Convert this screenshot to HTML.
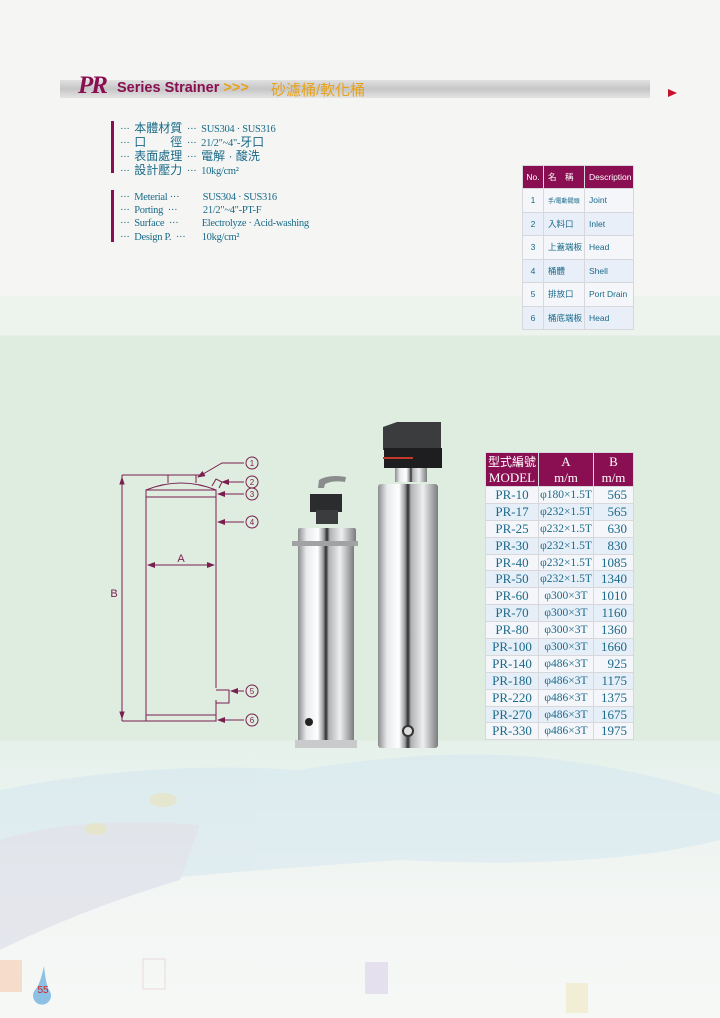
<!DOCTYPE html>
<html><head><meta charset="utf-8"><style>
*{margin:0;padding:0;box-sizing:border-box}
body{width:720px;height:1018px;position:relative;overflow:hidden;font-family:"Liberation Serif","Noto Serif CJK SC",serif;
background:linear-gradient(#f5f6f3 0,#f5f6f3 296px,#edf3ed 296px,#edf3ed 335px,#deede0 336px,#deede0 740px,#e6f1ec 742px,#f3f6f4 900px,#f6f8f6 1018px)}
.a{position:absolute}
.hdr{left:60px;top:80px;width:590px;height:18px;background:linear-gradient(#e0e0e0,#c6c6c6 50%,#e4e4e4)}
.sp{font-size:10.5px;color:#1a6a8a;line-height:13px;white-space:pre;letter-spacing:-0.3px}
.cj{font-family:"Liberation Sans","Noto Sans CJK TC",sans-serif;font-size:12px;letter-spacing:0}
table{border-collapse:collapse;position:absolute}
td{border:1px solid #d8d8dc;text-align:center;color:#1a6a8a}
.t1 td{font-family:"Liberation Sans","Noto Sans CJK TC",sans-serif;font-size:8.5px;height:23.5px;background:#f4f6fa}
.t1 tr:nth-child(odd) td{background:#e8eff8}
.t1 tr:first-child td{background:#8a0f52;color:#fff;height:23px;font-size:8.5px}
.t1 td:nth-child(3),.t1 td:nth-child(2){text-align:left;padding-left:4px}
.t2 td{font-size:13px;height:16.9px;background:#f4f6fa;line-height:14px}
.t2 tr:nth-child(odd) td{background:#e6eef8}
.t2 tr:first-child td{background:#8a0f52;color:#fff;height:34px;font-size:13px;line-height:16px}
.t2 td:nth-child(2){font-size:11.5px}
.t2 td:nth-child(3){text-align:right;padding-right:6px}
</style></head><body>
<div class="a hdr"></div>
<div class="a" style="left:78px;top:72px;font:italic bold 25px 'Liberation Serif',serif;color:#8a0f52;letter-spacing:-2px">PR</div>
<div class="a" style="left:117px;top:80px;font:bold 14.5px 'Liberation Sans',sans-serif;color:#8a0f52">Series Strainer <span style="color:#e8a21a">&gt;&gt;&gt;</span></div>
<div class="a" style="left:271px;top:79px;font:15px 'Liberation Sans','Noto Sans CJK TC',sans-serif;color:#e8a21a">砂濾桶/軟化桶</div>
<div class="a" style="left:668px;top:89px;width:0;height:0;border-left:9px solid #c8102e;border-top:4px solid transparent;border-bottom:4px solid transparent"></div>

<div class="a" style="left:111px;top:121px;width:3px;height:52px;background:#8a0f52"></div>
<div class="a sp" style="left:120px;top:122px">···  <span class="cj">本體材質</span>  ···  SUS304 · SUS316
···  <span class="cj">口　　徑</span>  ···  21/2"~4"-<span class="cj">牙口</span>
···  <span class="cj">表面處理</span>  ···  <span class="cj">電解 · 酸洗</span>
···  <span class="cj">設計壓力</span>  ···  10kg/cm²</div>
<div class="a" style="left:111px;top:190px;width:3px;height:52px;background:#8a0f52"></div>
<div class="a sp" style="left:120px;top:191px;line-height:13.2px;font-size:10.5px;letter-spacing:-0.3px">···  Meterial ···          SUS304 · SUS316
···  Porting  ···           21/2"~4"-PT-F
···  Surface  ···          Electrolyze · Acid-washing
···  Design P.  ···       10kg/cm²</div>

<table class="t1" style="left:522px;top:165px;width:112px">
<tr><td style="width:21px;text-align:center;padding:0">No.</td><td style="width:41px">名　稱</td><td>Description</td></tr>
<tr><td style="text-align:center;padding:0">1</td><td style="font-size:6px">手/電動閥頭</td><td>Joint</td></tr>
<tr><td style="text-align:center;padding:0">2</td><td>入料口</td><td>Inlet</td></tr>
<tr><td style="text-align:center;padding:0">3</td><td>上蓋端板</td><td>Head</td></tr>
<tr><td style="text-align:center;padding:0">4</td><td>桶體</td><td>Shell</td></tr>
<tr><td style="text-align:center;padding:0">5</td><td>排放口</td><td>Port Drain</td></tr>
<tr><td style="text-align:center;padding:0">6</td><td>桶底端板</td><td>Head</td></tr>
</table>

<table class="t2" style="left:485px;top:452px;width:149px">
<tr><td style="width:53px"><span style="font-family:'Liberation Sans','Noto Sans CJK TC',sans-serif;font-size:12px">型式編號</span><br>MODEL</td><td style="width:55px;font-size:13px">A<br>m/m</td><td style="text-align:center;padding:0">B<br>m/m</td></tr>
<tr><td>PR-10</td><td>φ180×1.5T</td><td>565</td></tr>
<tr><td>PR-17</td><td>φ232×1.5T</td><td>565</td></tr>
<tr><td>PR-25</td><td>φ232×1.5T</td><td>630</td></tr>
<tr><td>PR-30</td><td>φ232×1.5T</td><td>830</td></tr>
<tr><td>PR-40</td><td>φ232×1.5T</td><td>1085</td></tr>
<tr><td>PR-50</td><td>φ232×1.5T</td><td>1340</td></tr>
<tr><td>PR-60</td><td>φ300×3T</td><td>1010</td></tr>
<tr><td>PR-70</td><td>φ300×3T</td><td>1160</td></tr>
<tr><td>PR-80</td><td>φ300×3T</td><td>1360</td></tr>
<tr><td>PR-100</td><td>φ300×3T</td><td>1660</td></tr>
<tr><td>PR-140</td><td>φ486×3T</td><td>925</td></tr>
<tr><td>PR-180</td><td>φ486×3T</td><td>1175</td></tr>
<tr><td>PR-220</td><td>φ486×3T</td><td>1375</td></tr>
<tr><td>PR-270</td><td>φ486×3T</td><td>1675</td></tr>
<tr><td>PR-330</td><td>φ486×3T</td><td>1975</td></tr>
</table>

<svg class="a" style="left:0;top:0" width="720" height="1018">
<defs>
<linearGradient id="st" x1="0" x2="1"><stop offset="0" stop-color="#8a8c8e"/><stop offset=".15" stop-color="#e8eaec"/><stop offset=".35" stop-color="#ffffff"/><stop offset=".45" stop-color="#9a9c9e"/><stop offset=".5" stop-color="#2a2c2e"/><stop offset=".55" stop-color="#b0b2b4"/><stop offset=".75" stop-color="#eeeff0"/><stop offset="1" stop-color="#7a7c7e"/></linearGradient>
<marker id="ar" markerWidth="8" markerHeight="6" refX="7" refY="3" orient="auto"><path d="M0,0L8,3L0,6z" fill="#7a2050"/></marker>
</defs>
<g opacity=".5">
<path d="M0,790Q150,760 300,770Q450,745 560,760Q640,770 720,795V840Q600,870 400,860Q250,870 150,880Q60,900 0,940z" fill="#d2e6f0"/>
<path d="M0,840Q80,815 200,825L180,880Q80,910 0,950z" fill="#d6d8e6"/>
</g>
<g fill="#e8e4b8" opacity=".6"><ellipse cx="163" cy="800" rx="14" ry="7"/><ellipse cx="96" cy="829" rx="11" ry="6"/></g>
<g stroke="#7a2050" stroke-width="1" fill="none">
<path d="M122,475H200M122,721H146M122,475V721" />
<path d="M122,478l-2,6h4z M122,718l-2,-6h4z" fill="#7a2050"/>
<path d="M146,490Q181,476 216,490"/>
<path d="M168,483V475H196V483"/>
<rect x="146" y="490" width="70" height="7"/>
<path d="M146,497V715M216,497V688M216,700V715"/>
<rect x="146" y="715" width="70" height="6"/>
<path d="M212,486l4,-7 6,3 -3,6"/>
<path d="M216,690H229V703H216"/>
<path d="M148,565H214" marker-end="url(#ar)"/><path d="M214,565H148" marker-end="url(#ar)"/>
<path d="M244,463H222L198,477" marker-end="url(#ar)"/>
<path d="M244,482H222" marker-end="url(#ar)"/>
<path d="M244,494H218" marker-end="url(#ar)"/>
<path d="M244,522H218" marker-end="url(#ar)"/>
<path d="M244,691H231" marker-end="url(#ar)"/>
<path d="M244,720H218" marker-end="url(#ar)"/>
<g fill="none"><circle cx="252" cy="463" r="6"/><circle cx="252" cy="482" r="6"/><circle cx="252" cy="494" r="6"/><circle cx="252" cy="522" r="6"/><circle cx="252" cy="691" r="6"/><circle cx="252" cy="720" r="6"/></g>
</g>
<g font-family="Liberation Sans,sans-serif" font-size="8" fill="#7a2050" text-anchor="middle">
<text x="252" y="466">1</text><text x="252" y="485">2</text><text x="252" y="497">3</text><text x="252" y="525">4</text><text x="252" y="694">5</text><text x="252" y="723">6</text>
</g>
<text x="181" y="562" font-family="Liberation Sans,sans-serif" font-size="11" fill="#7a2050" text-anchor="middle">A</text>
<text x="114" y="597" font-family="Liberation Sans,sans-serif" font-size="11" fill="#7a2050" text-anchor="middle">B</text>

<path d="M318,488l1,-8q10,-6 27,-3l-1,5q-12,-2 -20,2l-1,4z" fill="#8a8c8e"/>
<rect x="310" y="494" width="32" height="18" fill="#2a2c2e"/>
<rect x="316" y="510" width="22" height="14" fill="#3a3c3e"/>
<rect x="298" y="528" width="58" height="16" rx="2" fill="url(#st)"/>
<rect x="292" y="541" width="66" height="5" fill="#a0a2a4"/>
<rect x="298" y="546" width="56" height="200" fill="url(#st)"/>
<rect x="295" y="740" width="62" height="8" fill="#c8cacc"/>
<circle cx="309" cy="722" r="4" fill="#222"/>
<path d="M383,427l14,-5h44v28h-58z" fill="#3a3c3e"/>
<rect x="384" y="448" width="58" height="20" fill="#1e1e20"/>
<rect x="383" y="457" width="30" height="2" fill="#c0392b"/>
<rect x="395" y="468" width="32" height="14" fill="url(#st)"/>
<rect x="378" y="484" width="60" height="264" rx="3" fill="url(#st)"/>
<circle cx="408" cy="731" r="5" fill="#ddd" stroke="#333" stroke-width="2"/>

<rect x="0" y="960" width="22" height="32" fill="#f5dccb"/>
<rect x="143" y="959" width="22" height="30" fill="none" stroke="#eadada"/>
<rect x="365" y="962" width="23" height="32" fill="#e4e0ee"/>
<rect x="566" y="983" width="22" height="30" fill="#f2eed6"/>
<path d="M44,966Q46,985 49,990A9,9 0 1 1 35,990Q40,985 44,966z" fill="#8cc0e4"/>
<text x="43" y="993" font-size="10" fill="#d02020" text-anchor="middle" font-family="Liberation Sans,sans-serif">55</text>
</svg>
</body></html>
